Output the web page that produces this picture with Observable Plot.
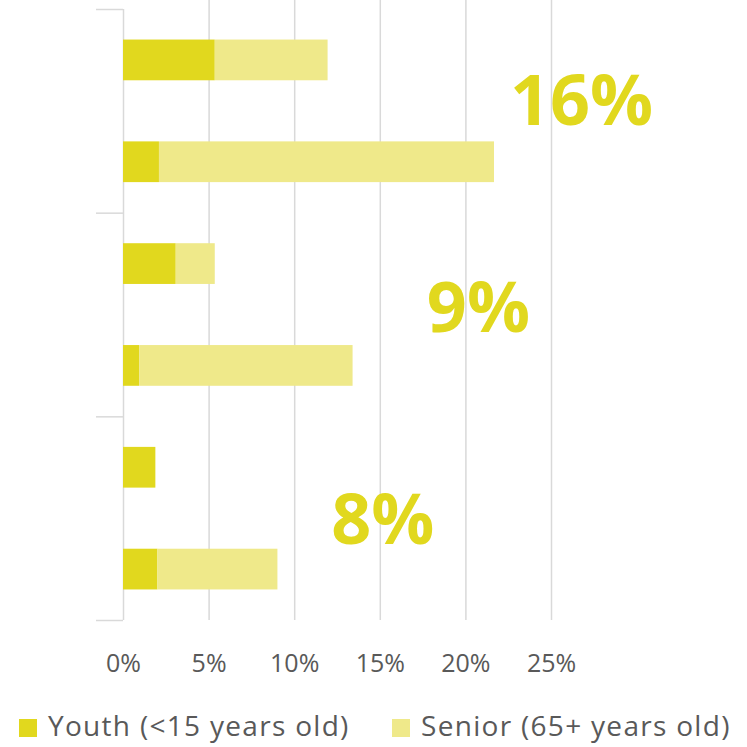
<!DOCTYPE html>
<html>
<head>
<meta charset="utf-8">
<script src="https://cdn.jsdelivr.net/npm/d3@7"></script>
<script src="https://cdn.jsdelivr.net/npm/@observablehq/plot@0.6"></script>
<style>
  html, body { margin: 0; padding: 0; background: #fff; }
  #chart { width: 747px; }
  .legend { position: relative; width: 747px; height: 47px; font-family: "Open Sans", sans-serif; }
  .legend .sw { position: absolute; width: 18px; height: 18px; top: 19px; }
  .legend .lb { position: absolute; top: 5px; font-size: 28px; line-height: 40px; color: #595959; letter-spacing: 1.3px; white-space: nowrap; }
</style>
</head>
<body>
<div id="chart"></div>
<script>
// ---- data ----
const youth  = [5.36, 2.10, 3.08, 0.94, 1.89, 2.01];
const senior = [6.59, 19.57, 2.28, 12.47, 0, 7.01];
const seriesNames = ["Youth (<15 years old)", "Senior (65+ years old)"];
const seriesColors = ["#E1D81E", "#EFE98A"];
const groupLabels = ["16%", "9%", "8%"];
const labelAnchorX = [26.75, 20.73, 15.14];
const labelAnchorY = [0.91, 2.95, 5.03];
const xTicks = [0, 5, 10, 15, 20, 25];
const groupBoundaries = [0, 2, 4, 6];

// ---- build table ----
const rows = [];
youth.forEach((v, i) => {
  rows.push({series: seriesNames[0], x1: 0, x2: v, i});
  if (senior[i] > 0) rows.push({series: seriesNames[1], x1: v, x2: v + senior[i], i});
});
const labels = groupLabels.map((t, k) => ({t, x: labelAnchorX[k], y: labelAnchorY[k]}));

const grid = "#d9d9d9";
const chart = Plot.plot({
  width: 747,
  height: 700,
  marginLeft: 123,
  marginRight: 196,
  marginTop: 0,
  marginBottom: 80,
  style: {fontFamily: "Open Sans, sans-serif", background: "#fff", overflow: "visible"},
  x: {domain: [0, 25]},
  y: {domain: [0, 6], range: [9, 620]},
  color: {domain: seriesNames, range: seriesColors},
  marks: [
    Plot.ruleX(xTicks.filter(d => d > 0), {stroke: grid, strokeWidth: 1.5}),
    Plot.ruleX([0], {y1: 0, y2: 6, stroke: grid, strokeWidth: 1.5}),
    Plot.axisY({ticks: groupBoundaries, tickSize: 27, tickFormat: () => "", label: null, stroke: grid, strokeWidth: 1.5, strokeOpacity: 1}),
    Plot.rectX(rows, {x1: "x1", x2: "x2", y1: d => d.i + 0.3, y2: d => d.i + 0.7, fill: "series"}),
    Plot.axisX({ticks: xTicks, tickSize: 0, tickPadding: 34, label: null, tickFormat: d => d + "%", fontSize: 25, fill: "#595959", style: {letterSpacing: "3px"}}),
    Plot.text(labels, {x: "x", y: "y", text: "t", fontSize: 70, fontWeight: 700, fill: seriesColors[0], lineAnchor: "middle", textAnchor: "middle", style: {letterSpacing: "-2px"}})
  ]
});
document.getElementById("chart").appendChild(chart);

// ---- legend ----
const legend = document.createElement("div");
legend.className = "legend";
const swX = [19, 392], lbX = [48, 421];
seriesNames.forEach((name, k) => {
  const sw = document.createElement("div");
  sw.className = "sw";
  sw.style.left = swX[k] + "px";
  sw.style.background = seriesColors[k];
  const lb = document.createElement("div");
  lb.className = "lb";
  lb.style.left = lbX[k] + "px";
  lb.textContent = name;
  legend.appendChild(sw);
  legend.appendChild(lb);
});
document.body.appendChild(legend);
</script>
</body>
</html>
